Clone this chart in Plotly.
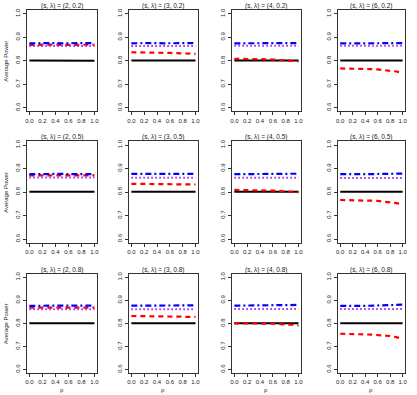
import plotly.graph_objects as go

# ---------------- data ----------------
rho = [0.0, 0.1, 0.2, 0.3, 0.4, 0.5, 0.6, 0.7, 0.8, 0.9, 1.0]
s_vals = [2, 3, 4, 6]
lam_vals = [0.2, 0.5, 0.8]
x_ticks = [0.0, 0.2, 0.4, 0.6, 0.8, 1.0]
x_ticktext = ["0.0", "0.2", "0.4", "0.6", "0.8", "1.0"]
y_ticks = [0.6, 0.7, 0.8, 0.9, 1.0]
y_ticktext = ["0.6", "0.7", "0.8", "0.9", "1.0"]

# panels ordered row by row (lambda), then column (s)
black = [
    [0.801, 0.801, 0.800, 0.800, 0.801, 0.800, 0.800, 0.801, 0.800, 0.800, 0.800],
    [0.801, 0.801, 0.801, 0.800, 0.800, 0.800, 0.800, 0.801, 0.801, 0.801, 0.801],
    [0.801, 0.801, 0.801, 0.800, 0.801, 0.800, 0.801, 0.800, 0.800, 0.801, 0.801],
    [0.801, 0.801, 0.801, 0.800, 0.800, 0.800, 0.801, 0.801, 0.801, 0.801, 0.801],
    [0.801, 0.801, 0.802, 0.801, 0.801, 0.801, 0.801, 0.802, 0.801, 0.801, 0.801],
    [0.801, 0.801, 0.801, 0.800, 0.800, 0.800, 0.800, 0.800, 0.801, 0.801, 0.801],
    [0.801, 0.801, 0.801, 0.800, 0.800, 0.800, 0.800, 0.800, 0.800, 0.801, 0.801],
    [0.801, 0.801, 0.801, 0.800, 0.800, 0.800, 0.801, 0.801, 0.801, 0.801, 0.801],
    [0.800, 0.801, 0.801, 0.801, 0.801, 0.801, 0.801, 0.801, 0.801, 0.801, 0.801],
    [0.801, 0.801, 0.801, 0.800, 0.800, 0.800, 0.800, 0.800, 0.801, 0.801, 0.801],
    [0.801, 0.801, 0.801, 0.800, 0.801, 0.801, 0.801, 0.801, 0.801, 0.801, 0.801],
    [0.801, 0.801, 0.801, 0.800, 0.800, 0.800, 0.801, 0.801, 0.801, 0.801, 0.801],
]
red = [
    [0.867, 0.868, 0.867, 0.868, 0.869, 0.867, 0.868, 0.868, 0.867, 0.868, 0.868],
    [0.836, 0.836, 0.836, 0.835, 0.835, 0.834, 0.833, 0.832, 0.831, 0.830, 0.829],
    [0.808, 0.808, 0.809, 0.808, 0.807, 0.806, 0.805, 0.803, 0.802, 0.800, 0.797],
    [0.767, 0.767, 0.766, 0.765, 0.764, 0.764, 0.763, 0.761, 0.758, 0.754, 0.748],
    [0.871, 0.871, 0.870, 0.871, 0.872, 0.870, 0.871, 0.871, 0.870, 0.871, 0.871],
    [0.835, 0.835, 0.835, 0.835, 0.834, 0.834, 0.834, 0.833, 0.833, 0.832, 0.832],
    [0.809, 0.809, 0.809, 0.808, 0.808, 0.807, 0.806, 0.805, 0.803, 0.801, 0.799],
    [0.766, 0.766, 0.765, 0.764, 0.763, 0.763, 0.762, 0.760, 0.757, 0.753, 0.747],
    [0.868, 0.868, 0.867, 0.868, 0.868, 0.867, 0.868, 0.868, 0.867, 0.868, 0.868],
    [0.832, 0.832, 0.832, 0.831, 0.831, 0.830, 0.830, 0.830, 0.829, 0.828, 0.828],
    [0.800, 0.800, 0.801, 0.800, 0.800, 0.799, 0.799, 0.797, 0.796, 0.794, 0.790],
    [0.755, 0.755, 0.754, 0.753, 0.752, 0.751, 0.750, 0.748, 0.745, 0.740, 0.733],
]
blue = [
    [0.874, 0.875, 0.875, 0.874, 0.875, 0.874, 0.875, 0.875, 0.874, 0.875, 0.875],
    [0.874, 0.875, 0.875, 0.874, 0.875, 0.874, 0.875, 0.875, 0.874, 0.875, 0.875],
    [0.874, 0.874, 0.875, 0.874, 0.875, 0.874, 0.875, 0.875, 0.876, 0.875, 0.875],
    [0.874, 0.875, 0.875, 0.874, 0.874, 0.874, 0.875, 0.875, 0.874, 0.875, 0.875],
    [0.876, 0.877, 0.877, 0.876, 0.877, 0.877, 0.876, 0.877, 0.877, 0.876, 0.877],
    [0.877, 0.877, 0.877, 0.876, 0.876, 0.877, 0.877, 0.877, 0.876, 0.877, 0.877],
    [0.876, 0.876, 0.877, 0.877, 0.877, 0.877, 0.877, 0.878, 0.878, 0.878, 0.878],
    [0.876, 0.877, 0.877, 0.876, 0.876, 0.877, 0.877, 0.877, 0.877, 0.878, 0.878],
    [0.876, 0.877, 0.877, 0.876, 0.877, 0.877, 0.877, 0.877, 0.877, 0.877, 0.877],
    [0.877, 0.877, 0.877, 0.876, 0.877, 0.877, 0.877, 0.877, 0.877, 0.878, 0.878],
    [0.877, 0.877, 0.878, 0.877, 0.878, 0.878, 0.878, 0.879, 0.879, 0.880, 0.880],
    [0.876, 0.877, 0.877, 0.876, 0.876, 0.877, 0.877, 0.878, 0.878, 0.879, 0.881],
]
purple = [
    [0.863, 0.863, 0.863, 0.863, 0.863, 0.863, 0.863, 0.863, 0.863, 0.863, 0.863],
    [0.863, 0.863, 0.863, 0.863, 0.863, 0.863, 0.863, 0.863, 0.863, 0.863, 0.863],
    [0.864, 0.864, 0.864, 0.864, 0.864, 0.864, 0.864, 0.864, 0.864, 0.864, 0.864],
    [0.864, 0.864, 0.864, 0.864, 0.864, 0.864, 0.864, 0.864, 0.864, 0.864, 0.864],
    [0.862, 0.862, 0.862, 0.862, 0.862, 0.862, 0.862, 0.862, 0.862, 0.862, 0.862],
    [0.861, 0.861, 0.861, 0.861, 0.861, 0.861, 0.861, 0.861, 0.861, 0.861, 0.861],
    [0.861, 0.861, 0.861, 0.861, 0.861, 0.861, 0.861, 0.861, 0.861, 0.861, 0.861],
    [0.860, 0.860, 0.860, 0.860, 0.860, 0.860, 0.860, 0.860, 0.860, 0.860, 0.860],
    [0.861, 0.861, 0.861, 0.861, 0.861, 0.861, 0.861, 0.861, 0.861, 0.861, 0.861],
    [0.861, 0.861, 0.861, 0.861, 0.861, 0.861, 0.861, 0.861, 0.861, 0.861, 0.861],
    [0.862, 0.862, 0.862, 0.862, 0.862, 0.862, 0.862, 0.862, 0.862, 0.862, 0.862],
    [0.862, 0.862, 0.862, 0.862, 0.862, 0.862, 0.862, 0.862, 0.862, 0.862, 0.862],
]

# ---------------- layout ----------------
W, H = 417, 395
col_px = [(25, 96), (128, 198), (232, 302), (339, 407)]
row_px = [(8, 110), (140, 242), (273, 373)]
FONT = "Liberation Sans, Arial, sans-serif"

styles = [
    (black, dict(color="black", width=2, dash="solid")),
    (red, dict(color="#FF0000", width=2.2, dash="5px,4px")),
    (purple, dict(color="#A020F0", width=2, dash="1.5px,2.5px")),
    (blue, dict(color="#0000FF", width=2.2, dash="6px,3px,2px,3px")),
]

fig = go.Figure()
annotations = []
layout_axes = {}

for r, lam in enumerate(lam_vals):
    for c, s in enumerate(s_vals):
        i = r * 4 + c
        k = i + 1
        xs = "x" if k == 1 else f"x{k}"
        ys = "y" if k == 1 else f"y{k}"
        for series, line in styles:
            fig.add_trace(go.Scatter(
                x=rho, y=series[i], mode="lines", line=line,
                xaxis=xs, yaxis=ys, showlegend=False, hoverinfo="skip"))
        x0, x1 = col_px[c]
        y0, y1 = row_px[r]
        common = dict(showline=True, mirror=True, linecolor="#333", linewidth=1,
                      ticks="outside", ticklen=3, tickwidth=1, tickcolor="#333",
                      showgrid=False, zeroline=False,
                      tickfont=dict(family=FONT, size=6, color="#222"))
        layout_axes["xaxis" if k == 1 else f"xaxis{k}"] = dict(
            domain=[x0 / W, x1 / W], anchor=ys, range=[-0.04, 1.04],
            tickvals=x_ticks, ticktext=x_ticktext, **common)
        layout_axes["yaxis" if k == 1 else f"yaxis{k}"] = dict(
            domain=[1 - y1 / H, 1 - y0 / H], anchor=xs, range=[0.584, 1.016],
            tickvals=y_ticks, ticktext=y_ticktext, tickangle=-90, **common)
        annotations.append(dict(
            text=f"(s, λ) = ({s}, {lam})", x=(x0 + x1) / 2 / W, y=1 - (y0 - 4) / H,
            xref="paper", yref="paper", showarrow=False, xanchor="center",
            yanchor="middle", font=dict(family=FONT, size=6.5, color="#222")))
        if c == 0:
            annotations.append(dict(
                text="Average Power", x=4 / W, y=1 - (y0 + y1) / 2 / H,
                xref="paper", yref="paper", showarrow=False, textangle=-90,
                xanchor="center", yanchor="middle",
                font=dict(family=FONT, size=6, color="#222")))
        if r == 2:
            annotations.append(dict(
                text="ρ", x=(x0 + x1) / 2 / W, y=1 - 390 / H,
                xref="paper", yref="paper", showarrow=False,
                xanchor="center", yanchor="middle",
                font=dict(family=FONT, size=6, color="#222")))

fig.update_layout(
    width=W, height=H, margin=dict(l=0, r=0, t=0, b=0),
    paper_bgcolor="white", plot_bgcolor="white",
    annotations=annotations, **layout_axes)

fig.write_html(
    "out.html",
    config={"displayModeBar": False, "staticPlot": True},
    post_script="document.body.style.margin='0';document.body.style.overflow='hidden';")
